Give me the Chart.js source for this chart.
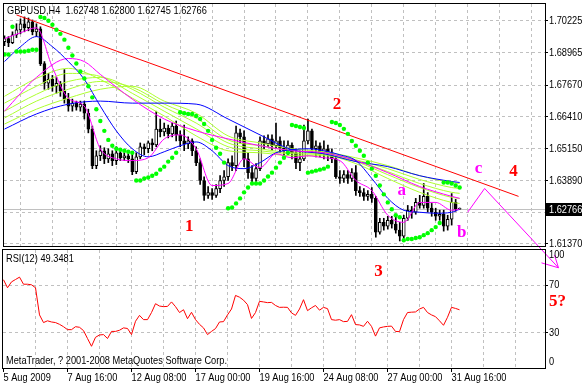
<!DOCTYPE html>
<html>
<head>
<meta charset="utf-8">
<title>GBPUSD,H4</title>
<script src="https://cdn.jsdelivr.net/npm/chart.js@4.4.0/dist/chart.umd.min.js"></script>
<style>
  html, body { margin: 0; padding: 0; background: #fff; }
  #wrap { position: relative; width: 582px; height: 386px; }
  #wrap canvas { position: absolute; left: 0; top: 0; }
</style>
</head>
<body>
<div id="wrap">
  <canvas id="priceChart" width="582" height="386"></canvas>
  <canvas id="rsiChart" width="582" height="386"></canvas>
</div>
<script>
// ---- data (H4 bars, index 0 = 5 Aug 2009 00:00) ----
const headerText = "GBPUSD,H4  1.62748 1.62800 1.62745 1.62766";
const rsiTitle = "RSI(12) 49.3481";
const copyright = "MetaTrader, ? 2001-2008 MetaQuotes Software Corp.";

const timeLabels = ["5 Aug 2009", "7 Aug 16:00", "12 Aug 08:00", "17 Aug 00:00",
  "19 Aug 16:00", "24 Aug 08:00", "27 Aug 00:00", "31 Aug 16:00"];
const labelBars = [0, 16, 32, 48, 64, 80, 96, 112];
const gridBars = [0, 8, 16, 24, 32, 40, 48, 56, 64, 72, 80, 88, 96, 104, 112, 120, 128];
const priceTicks = [1.61370, 1.62630, 1.63890, 1.65150, 1.66410, 1.67670, 1.68965, 1.70225];
const rsiTicks = [30, 70];

const firstOpen = 1.6940;
const closes = [
  1.6952, 1.6936, 1.6967, 1.6987, 1.7011, 1.6995, 1.7019, 1.6979, 1.6991, 1.6853,
  1.6775, 1.6790, 1.6763, 1.6775, 1.6743, 1.6712, 1.6684, 1.6696, 1.6680, 1.6692,
  1.6656, 1.6593, 1.6448, 1.6487, 1.6507, 1.6475, 1.6495, 1.6468, 1.6499, 1.6479,
  1.6487, 1.6475, 1.6424, 1.6483, 1.6523, 1.6515, 1.6538, 1.6530, 1.6593, 1.6582,
  1.6597, 1.6574, 1.6605, 1.6570, 1.6546, 1.6534, 1.6546, 1.6507, 1.6460, 1.6389,
  1.6330, 1.6341, 1.6330, 1.6357, 1.6389, 1.6404, 1.6460, 1.6448, 1.6578, 1.6562,
  1.6475, 1.6420, 1.6397, 1.6436, 1.6546, 1.6534, 1.6554, 1.6527, 1.6546, 1.6519,
  1.6507, 1.6530, 1.6499, 1.6460, 1.6475, 1.6546, 1.6586, 1.6515, 1.6527, 1.6499,
  1.6515, 1.6499, 1.6475, 1.6404, 1.6397, 1.6412, 1.6397, 1.6420, 1.6349, 1.6341,
  1.6326, 1.6334, 1.6318, 1.6184, 1.6223, 1.6208, 1.6231, 1.6216, 1.6192, 1.6168,
  1.6239, 1.6271, 1.6263, 1.6302, 1.6290, 1.6326, 1.6279, 1.6263, 1.6247, 1.6255,
  1.6208, 1.6235, 1.6302, 1.62748, 1.62766
];
const highs = [
  1.6963, 1.6960, 1.6979, 1.7011, 1.7030, 1.7038, 1.7034, 1.7026, 1.7011, 1.6999,
  1.6861, 1.6814, 1.6806, 1.6798, 1.6782, 1.6829, 1.6735, 1.6712, 1.6704, 1.6704,
  1.6704, 1.6672, 1.6605, 1.6507, 1.6527, 1.6519, 1.6515, 1.6507, 1.6523, 1.6507,
  1.6499, 1.6495, 1.6495, 1.6499, 1.6538, 1.6534, 1.6546, 1.6554, 1.6664, 1.6633,
  1.6617, 1.6609, 1.6617, 1.6625, 1.6586, 1.6609, 1.6562, 1.6554, 1.6523, 1.6475,
  1.6404, 1.6365, 1.6357, 1.6373, 1.6408, 1.6428, 1.6475, 1.6487, 1.6605, 1.6593,
  1.6586, 1.6499, 1.6448, 1.6456, 1.6562, 1.6566, 1.6570, 1.6570, 1.6617, 1.6562,
  1.6546, 1.6546, 1.6538, 1.6515, 1.6507, 1.6609, 1.6633, 1.6593, 1.6546, 1.6538,
  1.6546, 1.6530, 1.6515, 1.6487, 1.6428, 1.6428, 1.6428, 1.6436, 1.6448, 1.6365,
  1.6357, 1.6349, 1.6361, 1.6326, 1.6239, 1.6239, 1.6247, 1.6247, 1.6251, 1.6223,
  1.6251, 1.6290, 1.6286, 1.6318, 1.6330, 1.6377, 1.6341, 1.6298, 1.6279, 1.6271,
  1.6271, 1.6251, 1.6337, 1.6314, 1.62800
];
const lows = [
  1.6924, 1.6920, 1.6932, 1.6956, 1.6971, 1.6979, 1.6983, 1.6967, 1.6960, 1.6845,
  1.6751, 1.6751, 1.6743, 1.6735, 1.6723, 1.6696, 1.6664, 1.6664, 1.6668, 1.6664,
  1.6633, 1.6578, 1.6436, 1.6436, 1.6468, 1.6456, 1.6460, 1.6448, 1.6452, 1.6468,
  1.6468, 1.6460, 1.6412, 1.6416, 1.6475, 1.6491, 1.6499, 1.6507, 1.6523, 1.6562,
  1.6566, 1.6558, 1.6562, 1.6546, 1.6523, 1.6507, 1.6515, 1.6487, 1.6448, 1.6373,
  1.6310, 1.6318, 1.6314, 1.6322, 1.6341, 1.6365, 1.6389, 1.6428, 1.6428, 1.6538,
  1.6444, 1.6397, 1.6381, 1.6385, 1.6428, 1.6515, 1.6523, 1.6507, 1.6515, 1.6499,
  1.6483, 1.6491, 1.6475, 1.6436, 1.6428, 1.6468, 1.6534, 1.6499, 1.6483, 1.6483,
  1.6475, 1.6468, 1.6460, 1.6397, 1.6377, 1.6381, 1.6377, 1.6385, 1.6330, 1.6326,
  1.6310, 1.6310, 1.6302, 1.6164, 1.6176, 1.6192, 1.6196, 1.6200, 1.6180, 1.6149,
  1.6160, 1.6231, 1.6239, 1.6255, 1.6279, 1.6279, 1.6263, 1.6247, 1.6231, 1.6231,
  1.6188, 1.6192, 1.6212, 1.6267, 1.62745
];

// parabolic SAR, one dot per bar
const sar = [
  1.6889, 1.6889, 1.6999, 1.6901, 1.6901, 1.6901, 1.6904, 1.6908, 1.6908, 1.7038,
  1.7034, 1.7023, 1.7007, 1.6987, 1.6971, 1.6948, 1.6916, 1.6885, 1.6853, 1.6822,
  1.6794, 1.6763, 1.6719, 1.6672, 1.6625, 1.6586, 1.6550, 1.6527, 1.6515, 1.6511,
  1.6507, 1.6503, 1.6499, 1.6389, 1.6389, 1.6397, 1.6401, 1.6408, 1.6416, 1.6432,
  1.6444, 1.6464, 1.6479, 1.6499, 1.6660, 1.6656, 1.6653, 1.6653, 1.6645, 1.6633,
  1.6613, 1.6586, 1.6550, 1.6519, 1.6495, 1.6460, 1.6279, 1.6282, 1.6298, 1.6318,
  1.6342, 1.6361, 1.6377, 1.6377, 1.6377, 1.6389, 1.6405, 1.6420, 1.6440, 1.6460,
  1.6479, 1.6499, 1.6609, 1.6605, 1.6601, 1.6597, 1.6420, 1.6424, 1.6428, 1.6432,
  1.6436, 1.6444, 1.6621, 1.6617, 1.6609, 1.6594, 1.6574, 1.6546, 1.6527, 1.6507,
  1.6487, 1.6460, 1.6436, 1.6408, 1.6369, 1.6334, 1.6302, 1.6275, 1.6251, 1.6243,
  1.6152, 1.6157, 1.6157, 1.6161, 1.6164, 1.6172, 1.6180, 1.6192, 1.6204, 1.6220,
  1.6381, 1.6381, 1.6377, 1.6369, 1.6361
];

// RSI(12), one value per bar
const rsi = [
  74.8, 68, 73, 75, 77, 71, 71, 70.5, 68, 45,
  38.5, 40, 39, 38.5, 37, 35, 32.5, 32.5, 35, 34.5,
  31.7, 25, 18.4, 26, 28, 28.3, 25, 31, 31, 32,
  34, 33.5, 28.3, 39.6, 44.6, 41, 41, 47, 54.5, 52.5,
  52, 52.2, 56, 52, 47, 49.4, 41.8, 47.2, 41, 37,
  34, 28.3, 31, 33.4, 39, 39.3, 45, 50, 61.5, 60,
  57.5, 53.7, 42, 47, 56.5, 56, 55.4, 55.6, 53, 51.4,
  51.5, 51.4, 46.7, 44.6, 50, 57.9, 48.6, 51, 53, 49,
  51.4, 50.3, 41, 40.5, 41, 39.3, 39.5, 45.2, 36.8, 36.5,
  35.3, 39.6, 35.3, 27, 34, 34.8, 35.3, 35.5, 31, 30.8,
  41, 47, 47.3, 47.5, 50, 51.4, 47, 45, 43.5, 40,
  36.2, 43, 51.4, 50.5, 49.35
];

// moving averages at sample bars
const sampleBars4 = [0, 4, 8, 12, 16, 20, 24, 28, 32, 36, 40, 44, 48, 52, 56, 60, 64, 68, 72, 76, 80, 84, 88, 92, 96, 100, 104, 108, 112, 114];
const sampleBars8 = [0, 8, 16, 24, 32, 40, 48, 56, 64, 72, 80, 88, 96, 104, 112, 114];
const midBars = [0, 8, 16, 20, 24, 32, 40, 48, 56, 64, 72, 80, 88, 96, 104, 112, 114];

const fastMagenta = [1.6952, 1.6975, 1.6995, 1.6838, 1.6715, 1.6684, 1.6515, 1.6475, 1.6468, 1.6479,
  1.6554, 1.6570, 1.6515, 1.6369, 1.6377, 1.6475, 1.6440, 1.6495, 1.6479, 1.6487,
  1.6479, 1.6468, 1.6389, 1.6349, 1.6251, 1.6223, 1.6302, 1.6302, 1.6271, 1.6275];
const fastBlue = [1.6861, 1.6920, 1.6960, 1.6920, 1.6861, 1.6790, 1.6684, 1.6586, 1.6515, 1.6483,
  1.6503, 1.6527, 1.6542, 1.6507, 1.6448, 1.6436, 1.6460, 1.6499, 1.6511, 1.6515,
  1.6507, 1.6491, 1.6468, 1.6397, 1.6318, 1.6271, 1.6263, 1.6259, 1.6263, 1.6275];
const midMagenta = [1.6664, 1.6798, 1.6873, 1.6861, 1.6810, 1.6712, 1.6633, 1.6586, 1.6554,
  1.6527, 1.6507, 1.6499, 1.6468, 1.6420, 1.6365, 1.6326, 1.6318];
const slowBlue = [1.6593, 1.6653, 1.6692, 1.6704, 1.6696, 1.6696, 1.6692, 1.6633, 1.6570,
  1.6511, 1.6495, 1.6464, 1.6444, 1.6408, 1.6385, 1.6381];
const ribbon1 = [1.6723, 1.6794, 1.6834, 1.6790, 1.6716, 1.6645, 1.6566, 1.6507, 1.6499, 1.6487, 1.6487, 1.6456, 1.6397, 1.6342, 1.6302, 1.6298];
const ribbon2 = [1.6696, 1.6763, 1.6814, 1.6802, 1.6735, 1.6664, 1.6594, 1.6523, 1.6507, 1.6495, 1.6491, 1.6464, 1.6412, 1.6361, 1.6322, 1.6318];
const ribbon3 = [1.6664, 1.6731, 1.6782, 1.6798, 1.6751, 1.6680, 1.6617, 1.6538, 1.6515, 1.6499, 1.6495, 1.6468, 1.6424, 1.6377, 1.6342, 1.6338];
const ribbon4 = [1.6637, 1.6704, 1.6751, 1.6782, 1.6759, 1.6692, 1.6637, 1.6550, 1.6527, 1.6507, 1.6499, 1.6471, 1.6436, 1.6393, 1.6361, 1.6357];
const ribbon5 = [1.6613, 1.6672, 1.6716, 1.6751, 1.6763, 1.6704, 1.6656, 1.6566, 1.6538, 1.6515, 1.6503, 1.6479, 1.6448, 1.6408, 1.6381, 1.6377];

// hand drawn objects
const trendBars = [3, 128.75];
const trendPrices = [1.70461, 1.63259];
const waveBars = [116, 120.25, 138.75];
const wavePrices = [1.62629, 1.63573, 1.60425];
const arrowBars = [134.5, 138.75, 137.75];
const arrowPrices = [1.60621, 1.60425, 1.60936];

const noteText = ["1", "2", "4", "a", "b", "c"];
const noteBars = [46.25, 83.25, 127.5, 99.5, 114.5, 118.75];
const notePrices = [1.62078, 1.66919, 1.64242, 1.63495, 1.61802, 1.64361];
const noteColors = ["#ff0000", "#ff0000", "#ff0000", "#ff00ff", "#ff00ff", "#ff00ff"];
const rsiNoteText = ["3", "5?"];
const rsiNoteBars = [93.75, 138.5];
const rsiNoteValues = [81.6, 56.2];

// ---- helpers ----
const gridColor = "#c0c0c0";
const uiFont = '11px "Liberation Sans", Arial, sans-serif';
const narrow = 0.84; // terminal font is narrower than Liberation Sans
const noteFont = 'bold 17px "Liberation Serif", "Times New Roman", serif';

const opens = closes.map((c, i) => (i === 0 ? firstOpen : closes[i - 1]));

function points(bars, values) {
  return bars.map((b, k) => ({ x: b, y: values[k] }));
}

function maLine(bars, values, color, order) {
  return {
    type: "line",
    data: points(bars, values),
    borderColor: color,
    borderWidth: 1,
    pointRadius: 0,
    cubicInterpolationMode: "monotone",
    fill: false,
    order: order
  };
}

// draws text squeezed horizontally, left/center/right anchored at x
function narrowText(ctx, text, x, y, align, color) {
  ctx.save();
  ctx.font = uiFont;
  ctx.fillStyle = color || "#000";
  ctx.textBaseline = "middle";
  ctx.textAlign = "left";
  const w = ctx.measureText(text).width * narrow;
  const x0 = align === "center" ? x - w / 2 : align === "right" ? x - w : x;
  ctx.translate(x0, y);
  ctx.scale(narrow, 1);
  ctx.fillText(text, 0, 0);
  ctx.restore();
}

function gridLineColor(ctx) {
  return ctx.tick && ctx.tick.value === 0 ? "rgba(0,0,0,0)" : gridColor;
}

function drawFrame(ctx, area) {
  ctx.save();
  ctx.strokeStyle = "#000";
  ctx.lineWidth = 1;
  ctx.strokeRect(area.left - 0.5, area.top - 0.5, area.right - area.left + 1, area.bottom - area.top + 1);
  ctx.restore();
}

const xMin = -0.125;
const xMax = 135.375;

// ---- price panel ----
const mainDecor = {
  id: "mainDecor",
  beforeDatasetsDraw(chart) {
    const { ctx, chartArea, scales } = chart;
    const y = Math.round(scales.y.getPixelForValue(closes[closes.length - 1])) + 0.5;
    ctx.save();
    ctx.strokeStyle = gridColor;
    ctx.lineWidth = 1;
    ctx.beginPath();
    ctx.moveTo(chartArea.left, y);
    ctx.lineTo(chartArea.right, y);
    ctx.stroke();
    ctx.restore();
  },
  afterDraw(chart) {
    const { ctx, chartArea, scales } = chart;
    drawFrame(ctx, chartArea);

    priceTicks.forEach((v) => {
      narrowText(ctx, v.toFixed(5), chartArea.right + 4, scales.y.getPixelForValue(v), "left");
    });

    // current price box
    const last = closes[closes.length - 1];
    const py = Math.round(scales.y.getPixelForValue(last));
    ctx.fillStyle = "#000";
    ctx.fillRect(chartArea.right + 1, py - 6, chart.width - chartArea.right - 1, 13);
    narrowText(ctx, last.toFixed(5), chartArea.right + 4, py + 0.5, "left", "#fff");

    narrowText(ctx, headerText, 7, 11, "left");

    // wave labels
    ctx.save();
    ctx.font = noteFont;
    ctx.textAlign = "center";
    ctx.textBaseline = "middle";
    noteText.forEach((t, i) => {
      ctx.fillStyle = noteColors[i];
      ctx.fillText(t, scales.x.getPixelForValue(noteBars[i]), scales.y.getPixelForValue(notePrices[i]));
    });
    ctx.restore();
  }
};

const priceChart = new Chart(document.getElementById("priceChart"), {
  type: "bar",
  data: {
    datasets: [
      {
        type: "line",
        data: sar.map((v, i) => ({ x: i, y: v })),
        showLine: false,
        pointRadius: 2.2,
        pointBackgroundColor: "#00ff00",
        pointBorderWidth: 0,
        order: 0
      },
      {
        type: "line",
        data: points(waveBars, wavePrices),
        borderColor: "#ff00ff",
        borderWidth: 1,
        pointRadius: 0,
        tension: 0,
        clip: false,
        order: 1
      },
      {
        type: "line",
        data: points(arrowBars, arrowPrices),
        borderColor: "#ff00ff",
        borderWidth: 1,
        pointRadius: 0,
        tension: 0,
        clip: false,
        order: 1
      },
      {
        type: "line",
        data: points(trendBars, trendPrices),
        borderColor: "#ff0000",
        borderWidth: 1,
        pointRadius: 0,
        tension: 0,
        order: 2
      },
      maLine(sampleBars4, fastMagenta, "#ff00ff", 3),
      maLine(sampleBars4, fastBlue, "#0000ff", 4),
      maLine(midBars, midMagenta, "#ff00ff", 5),
      maLine(sampleBars8, slowBlue, "#0000ff", 6),
      maLine(sampleBars8, ribbon1, "#adff2f", 7),
      maLine(sampleBars8, ribbon2, "#adff2f", 8),
      maLine(sampleBars8, ribbon3, "#adff2f", 9),
      maLine(sampleBars8, ribbon4, "#adff2f", 10),
      maLine(sampleBars8, ribbon5, "#adff2f", 11),
      {
        // candle bodies
        data: closes.map((c, i) => ({ x: i, y: [opens[i], c] })),
        backgroundColor: closes.map((c, i) => (c >= opens[i] ? "#fff" : "#000")),
        borderColor: "#000",
        borderWidth: 1,
        borderSkipped: false,
        barThickness: 3,
        minBarLength: 1,
        grouped: false,
        order: 20
      },
      {
        // wicks
        data: closes.map((c, i) => ({ x: i, y: [lows[i], highs[i]] })),
        backgroundColor: "#000",
        borderWidth: 0,
        barThickness: 1,
        grouped: false,
        order: 21
      }
    ]
  },
  options: {
    responsive: false,
    animation: false,
    events: [],
    layout: { padding: { left: 3, top: 2, right: 0, bottom: 140 } },
    plugins: { legend: { display: false }, tooltip: { enabled: false } },
    scales: {
      x: {
        type: "linear",
        min: xMin,
        max: xMax,
        offset: false,
        afterBuildTicks: (s) => { s.ticks = gridBars.map((v) => ({ value: v })); },
        grid: { color: gridLineColor, drawTicks: false },
        border: { display: false, dash: [3, 3] },
        ticks: { display: false },
        afterFit: (s) => { s.height = 0; s.paddingLeft = 0; s.paddingRight = 0; }
      },
      y: {
        type: "linear",
        position: "right",
        min: 1.61290,
        max: 1.70894,
        afterBuildTicks: (s) => { s.ticks = priceTicks.map((v) => ({ value: v })); },
        grid: { color: gridColor, tickLength: 3, tickColor: "#000" },
        border: { display: false, dash: [3, 3] },
        ticks: { display: false },
        afterFit: (s) => { s.width = 37; s.paddingTop = 0; s.paddingBottom = 0; }
      }
    }
  },
  plugins: [mainDecor]
});

// ---- RSI panel ----
const rsiDecor = {
  id: "rsiDecor",
  afterDraw(chart) {
    const { ctx, chartArea, scales } = chart;
    drawFrame(ctx, chartArea);

    narrowText(ctx, rsiTitle, 6, chartArea.top + 9, "left");
    narrowText(ctx, copyright, 6, chartArea.bottom - 7, "left");

    rsiTicks.forEach((v) => {
      narrowText(ctx, String(v), chartArea.right + 4, scales.y.getPixelForValue(v), "left");
    });
    // end labels sit inside the panel
    narrowText(ctx, "100", chartArea.right + 4, scales.y.getPixelForValue(100) + 5, "left");
    narrowText(ctx, "0", chartArea.right + 4, scales.y.getPixelForValue(0) - 6, "left");

    labelBars.forEach((b, k) => {
      narrowText(ctx, timeLabels[k], scales.x.getPixelForValue(b), chartArea.bottom + 10, "left");
    });

    ctx.save();
    ctx.font = noteFont;
    ctx.textAlign = "center";
    ctx.textBaseline = "middle";
    ctx.fillStyle = "#ff0000";
    rsiNoteText.forEach((t, i) => {
      ctx.fillText(t, scales.x.getPixelForValue(rsiNoteBars[i]), scales.y.getPixelForValue(rsiNoteValues[i]));
    });
    ctx.restore();
  }
};

const rsiChart = new Chart(document.getElementById("rsiChart"), {
  type: "line",
  data: {
    datasets: [{
      data: rsi.map((v, i) => ({ x: i, y: v })),
      borderColor: "#ff0000",
      borderWidth: 1,
      pointRadius: 0,
      tension: 0
    }]
  },
  options: {
    responsive: false,
    animation: false,
    events: [],
    layout: { padding: { left: 3, top: 250, right: 0, bottom: 0 } },
    plugins: { legend: { display: false }, tooltip: { enabled: false } },
    scales: {
      x: {
        type: "linear",
        min: xMin,
        max: xMax,
        offset: false,
        afterBuildTicks: (s) => { s.ticks = gridBars.map((v) => ({ value: v })); },
        grid: {
          color: gridLineColor,
          tickLength: 4,
          tickColor: (ctx) => (labelBars.includes(ctx.tick.value) ? "#000" : "rgba(0,0,0,0)")
        },
        border: { display: false, dash: [3, 3] },
        ticks: { display: false },
        afterFit: (s) => { s.height = 18; s.paddingLeft = 0; s.paddingRight = 0; }
      },
      y: {
        type: "linear",
        position: "right",
        min: 0,
        max: 100,
        afterBuildTicks: (s) => { s.ticks = rsiTicks.map((v) => ({ value: v })); },
        grid: { color: gridColor, tickLength: 3, tickColor: "#000" },
        border: { display: false, dash: [3, 3] },
        ticks: { display: false },
        afterFit: (s) => { s.width = 37; s.paddingTop = 0; s.paddingBottom = 0; }
      }
    }
  },
  plugins: [rsiDecor]
});
</script>
</body>
</html>
